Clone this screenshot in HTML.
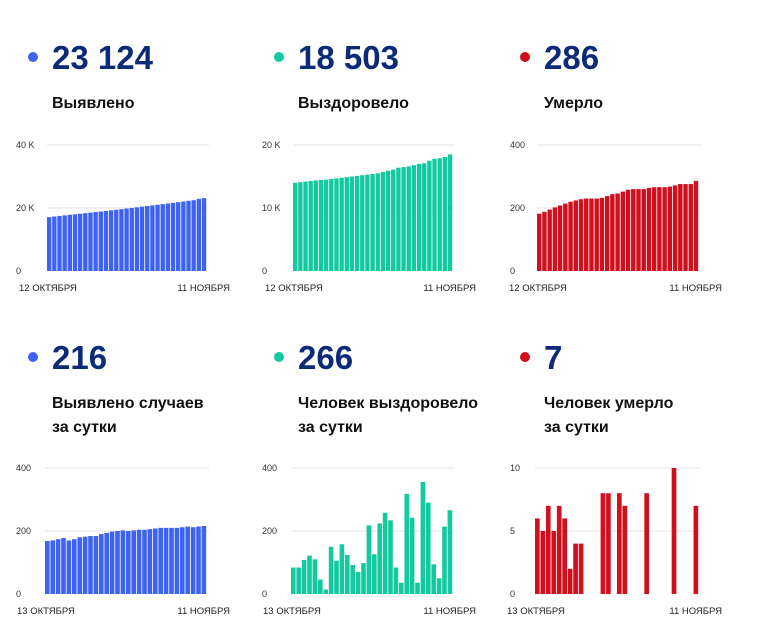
<!DOCTYPE html>
<html><head><meta charset="utf-8">
<style>
body{margin:0;background:#fff;width:758px;height:637px;overflow:hidden;font-family:"Liberation Sans",Arial,sans-serif}
svg{position:absolute;left:0;top:0}
</style></head>
<body>
<svg id="s" width="758" height="637"></svg>
<script>
const blueTotal=[17100,17300,17480,17650,17830,18000,18180,18360,18540,18720,18900,19080,19260,19440,19630,19830,20030,20230,20430,20630,20830,21030,21230,21430,21640,21850,22060,22270,22480,22908,23124];
const greenTotal=[14000,14100,14200,14300,14380,14450,14500,14600,14700,14800,14900,15000,15100,15200,15300,15400,15500,15700,15900,16100,16400,16500,16600,16800,17000,17100,17500,17800,17900,18100,18503];
const redTotal=[182,188,195,202,208,214,220,224,228,230,230,230,232,238,244,246,252,258,260,260,260,264,266,266,266,268,272,276,276,276,286];
const blueDaily=[168,170,174,178,170,174,180,182,184,184,190,194,198,200,202,200,202,204,204,206,208,210,210,210,210,212,214,212,214,216];
const greenDaily=[84,84,108,122,110,46,14,150,106,158,124,92,70,98,218,126,224,258,234,84,36,318,242,36,356,290,94,50,214,266];
const redDaily=[6,5,7,5,7,6,2,4,4,0,0,0,8,8,0,8,7,0,0,0,8,0,0,0,0,10,0,0,0,7];
const topTicks=[["0","20 K","40 K"],["0","10 K","20 K"],["0","200","400"]];
const botTicks=[["0","200","400"],["0","200","400"],["0","5","10"]];
const heads=[["23 124",["Выявлено"]],["18 503",["Выздоровело"]],["286",["Умерло"]],["216",["Выявлено случаев","за сутки"]],["266",["Человек выздоровело","за сутки"]],["7",["Человек умерло","за сутки"]]];
const NS="http://www.w3.org/2000/svg",S=document.getElementById('s');
function el(t,a,txt){const e=document.createElementNS(NS,t);for(const k in a)e.setAttribute(k,a[k]);if(txt!=null)e.textContent=txt;S.appendChild(e);return e;}
const colors=["#3d63f0","#13c9a0","#d0101e"];
const colX=[30,276,522];
function header(i){const c=i%3,row=i>2?1:0;const x=colX[c],y=row?357:57;
 const d=el('circle',{cx:x+3,cy:y,r:5,fill:colors[c]});
 
 const n=el('text',{x:x+22,y:y+12,'font-size':33,'font-weight':'bold',fill:'#0b2a78'},heads[i][0]);
 
 heads[i][1].forEach((l,j)=>{const t=el('text',{x:x+22,y:y+51+j*24,'font-size':16,'font-weight':'bold',fill:'#111'},l);
 });}
for(let i=0;i<6;i++)header(i);
function chart(data,max,ticks,color,x0,x1,yTop,yBot,labels,lx){
 const ys=v=>yBot-(v/max)*(yBot-yTop);
 ticks.forEach((t,j)=>{const y=yTop+(yBot-yTop)*(1-j/2);
  if(j>0){const g=el('line',{x1:x0,x2:x1+2,y1:y,y2:y,stroke:'#e6e6e6','stroke-width':1});}
  const tt=el('text',{x:lx,y:y+3,'font-size':9,fill:'#333'},t);});
 const w=(x1-x0)/data.length;
 data.forEach((v,k)=>{if(v<=0)return;const b=el('rect',{x:x0+k*w,y:ys(v),width:w-0.8,height:yBot-ys(v),fill:color});
  });
 const a=el('text',{x:x0-28,y:yBot+20,'font-size':9.5,fill:'#222'},labels[0]);
 const b=el('text',{x:x1+23,y:yBot+20,'font-size':9.5,fill:'#222','text-anchor':'end'},labels[1]);}
const tops=[[blueTotal,40000],[greenTotal,20000],[redTotal,400]];
const bots=[[blueDaily,400],[greenDaily,400],[redDaily,10]];
const cx=[[47,207,16],[293,453,262],[537,699,510]];
for(let c=0;c<3;c++){
 chart(tops[c][0],tops[c][1],topTicks[c],colors[c],cx[c][0],cx[c][1],145,271,["12 ОКТЯБРЯ","11 НОЯБРЯ"],cx[c][2]);
 chart(bots[c][0],bots[c][1],botTicks[c],colors[c],cx[c][0]-2,cx[c][1],468,594,["13 ОКТЯБРЯ","11 НОЯБРЯ"],cx[c][2]);
}
</script>
</body></html>
